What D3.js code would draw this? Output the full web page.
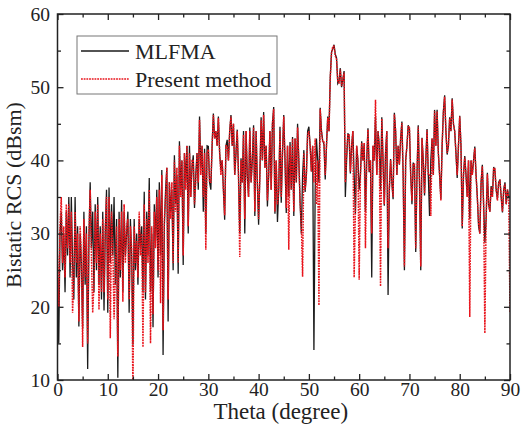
<!DOCTYPE html>
<html>
<head>
<meta charset="utf-8">
<script src="https://cdn.jsdelivr.net/npm/d3@7"></script>
<style>
  body { margin: 0; background: #fff; }
  .canvas svg { display: block; }
  text { font-family: "Liberation Serif", "Times New Roman", serif; fill: #222; }
</style>
</head>
<body>
<div class="canvas"></div>
<script>
// data, one value every 0.25 degree
const thetaStep = 0.25;
const seriesNames = ['MLFMA', 'Present method'];
const xTicks = [0, 10, 20, 30, 40, 50, 60, 70, 80, 90];
const yTicks = [10, 20, 30, 40, 50, 60];

const mlfma = [
  24,15,30,33, 25,30,22,33, 27,35,24,35, 26,21,35,24, 31,17.3,30,26,
  17,33,23,31, 11.5,29,37,28, 33,22,34,25, 35,23,31,21, 33,19.5,30,36,
  19.2,36.3,26,34, 27,35,23,32, 10.3,33,24,34.6, 22,33,27,30, 33,19.2,32,27,
  14.8,32,25,30, 23,32,28,31, 22,35.7,21,33, 27,37.6,22,30, 17.2,34,29,36,
  24,37,27,38.7, 13.4,31,36,39, 18,37,33,36, 25,40.7,34,38, 24.5,42.6,36,40,
  25.7,41,37,42, 30,42,35,39, 40.7,33.5,38,41, 36,46,39,42, 33,41.6,30,42,
  41.9,37,36,42, 46.4,43,44,42, 46,41,38.7,40, 36,31.9,42,42.8, 40,44,46.2,42,
  45,38,41,44.2, 38,30,40.3,37, 44,30,44,38, 35,44.5,37,40, 44.8,32.4,44,37,
  31.2,38,45.9,40, 46.6,39,42,33.7, 38,44,36,45, 47.3,32.7,40,31.6, 36,44.6,34.2,41,
  46.2,40,32.8,42, 35,42.5,36,43.2, 32.4,43,37,45, 40,34.2,30,38, 41.4,35.7,38,44,
  44.6,42,38.5,42, 14.1,36,43,40, 37,47.2,44,42.7, 42.2,37.4,42,46, 44,51.4,54.8,55.2,
  55.8,54.5,54,50.5, 50.8,52.6,50,51, 52.2,35,40,43.7, 43.2,38.2,42,44, 38,32.7,42,40,
  36,38,42.6,40, 42.2,33,40,44.4, 38.4,40,24,42, 40,46,38,44, 42,36,45.9,40,
  33.8,41,44,21.6, 36,40.2,37,34.7, 46.5,44,38,42, 39.4,43,45.3,38, 25,40,42,44.8,
  44.3,38,34,39.7, 39.2,27.5,38,44.8, 37,25,43.1,40, 35.2,40,44.3,38, 32.4,40,43,38,
  46.9,42,46.9,41, 38,34.7,42,46.7, 48.9,44,40.8,42, 45.9,44,48.5,45, 44,41,37.6,42,
  46.1,42,30.7,38, 40.6,38,35,40, 32,40,38,40, 41.9,38,35,31, 30,37,39.4,34,
  28.8,32,38.3,34, 33,36.5,35,39.1, 38.6,36,34.7,37, 37.4,35,32.9,36, 37,34,36,35,
  35
];

const present = [
  27,20,31,35, 26,31,24,34, 28,34,26,33, 19.2,24,33,26, 30,18,31,27,
  14.5,32,24,30, 15,30,36,27, 19.2,23,33,26, 34,19.6,30,22, 32,22,31,35,
  21,35,15.7,33, 28,18.3,24,31, 13.2,32,25,33, 20.7,34,26,31, 32,21,31,28,
  8,31,26,29, 24,33,27,30, 14.5,34,22,32, 26,36,15,31, 19,33,28,35,
  25,36,20.5,38, 16.8,32,35,39, 21,37,32,37, 26,40,33,39, 26,42,35,40,
  27,41,36,42, 31,41,35,40, 40,34,37,41, 37,45.5,38,42, 35,41,27.8,41,
  41.5,37,37,42, 46.2,43,44,42, 45.8,41,38,40, 36,32.5,42,42, 40,44,46,42,
  45,38,41,44, 38,26.8,40,37, 43.5,32,44,38, 35,44,37,40, 44.5,33,44,37,
  32,38,45.5,40, 46.2,39,42,34.5, 38,44,36,45, 47,33,40,34, 36,44,35,41,
  46,40,33.5,42, 27.8,42,36,43, 33,43,37,44.5, 40,34.5,31,24.1, 41,36,38,43.5,
  44,42,38.5,42, 37,43,34,40, 20.2,47,44,42.5, 42.5,38,42,45.8, 44,51.2,54.6,55.6,
  55.6,54.3,53.8,50.7, 50.6,52.4,50.2,51, 52,37,41,43.5, 43.5,38.5,42,44, 24,33,42,40,
  23.7,38,42.4,40, 42.4,28,40,44.2, 38.5,40,30,42, 40,48.3,38,44, 42,22.8,45.7,40,
  34,41,44,28, 36,40,37,35, 46.3,44,38,42, 39.5,43,45.1,38, 25.5,40,42,44.6,
  44.6,38,34.5,39.5, 39.5,28,38,44.6, 37,25.5,43,40, 35.5,40,44.1,38, 38,32.4,43,38,
  46.7,42,46.7,41, 38,34.5,42,46.5, 48.7,44,41,42, 45.7,44,48.3,45, 44,41,38,42,
  46,42,31,38, 40.4,38,35,40, 18.6,40,38,40, 41.7,38,35,31.5, 30,37,39.2,34,
  16.4,32,38.1,34, 33,36.3,35,38.9, 38.9,36,34.5,37, 37.2,35,33,36, 36.8,34,36,35,
  19.2
];

// svg + margins
const width = 522;
const height = 427;
const margin = { top: 14, right: 12, bottom: 47, left: 57.5 };
const graphWidth = width - margin.left - margin.right;
const graphHeight = height - margin.top - margin.bottom;

const svg = d3.select('.canvas')
  .append('svg')
  .attr('width', width)
  .attr('height', height);

const graph = svg.append('g')
  .attr('transform', `translate(${margin.left}, ${margin.top})`);

// scales
const x = d3.scaleLinear().domain([0, 90]).range([0, graphWidth]);
const y = d3.scaleLinear().domain([10, 60]).range([graphHeight, 0]);

svg.append('defs').append('clipPath')
  .attr('id', 'plot-clip')
  .append('rect')
  .attr('width', graphWidth)
  .attr('height', graphHeight);

// lines
const line = d3.line()
  .x((d, i) => x(i * thetaStep))
  .y(d => y(d));

const lines = graph.append('g').attr('clip-path', 'url(#plot-clip)');

lines.append('path')
  .datum(mlfma)
  .attr('fill', 'none')
  .attr('stroke', '#1a1a1a')
  .attr('stroke-width', 1.3)
  .attr('d', line);

lines.append('path')
  .datum(present)
  .attr('fill', 'none')
  .attr('stroke', '#e8141c')
  .attr('stroke-width', 1.5)
  .attr('stroke-dasharray', '1.8,0.9')
  .attr('d', line);

// axes, ticks pointing inward
const minorX = [5, 15, 25, 35, 45, 55, 65, 75, 85];
const minorY = [15, 25, 35, 45, 55];

const axisStyle = (g) => {
  g.select('.domain').remove();
  g.selectAll('line').attr('stroke', '#222').attr('stroke-width', 1.3);
  g.selectAll('text').attr('font-size', 19.5);
};

graph.append('g')
  .attr('transform', `translate(0, ${graphHeight})`)
  .call(d3.axisBottom(x).tickValues(xTicks).tickSize(-6).tickPadding(2))
  .call(axisStyle);
graph.append('g')
  .attr('transform', `translate(0, ${graphHeight})`)
  .call(d3.axisBottom(x).tickValues(minorX).tickSize(-3.5).tickFormat(''))
  .call(axisStyle);

graph.append('g')
  .call(d3.axisTop(x).tickValues(xTicks).tickSize(-6).tickFormat(''))
  .call(axisStyle);
graph.append('g')
  .call(d3.axisTop(x).tickValues(minorX).tickSize(-3.5).tickFormat(''))
  .call(axisStyle);

graph.append('g')
  .call(d3.axisLeft(y).tickValues(yTicks).tickSize(-6).tickPadding(7.5))
  .call(axisStyle);
graph.append('g')
  .call(d3.axisLeft(y).tickValues(minorY).tickSize(-3.5).tickFormat(''))
  .call(axisStyle);

graph.append('g')
  .attr('transform', `translate(${graphWidth}, 0)`)
  .call(d3.axisRight(y).tickValues(yTicks).tickSize(-6).tickFormat(''))
  .call(axisStyle);
graph.append('g')
  .attr('transform', `translate(${graphWidth}, 0)`)
  .call(d3.axisRight(y).tickValues(minorY).tickSize(-3.5).tickFormat(''))
  .call(axisStyle);

// frame
graph.append('rect')
  .attr('width', graphWidth)
  .attr('height', graphHeight)
  .attr('fill', 'none')
  .attr('stroke', '#222')
  .attr('stroke-width', 1.5);

// axis titles
svg.append('text')
  .attr('x', margin.left + x(45) - 3)
  .attr('y', 419)
  .attr('text-anchor', 'middle')
  .attr('font-size', 23)
  .text('Theta (degree)');

svg.append('text')
  .attr('transform', `translate(21, ${margin.top + y(35) - 2}) rotate(-90)`)
  .attr('text-anchor', 'middle')
  .attr('font-size', 22)
  .text('Bistatic RCS (dBsm)');

// legend
const legend = svg.append('g').attr('transform', 'translate(77, 36)');

legend.append('rect')
  .attr('width', 200)
  .attr('height', 58)
  .attr('fill', '#fff')
  .attr('stroke', '#777')
  .attr('stroke-width', 1);

const legendStyles = [
  { stroke: '#1a1a1a', dash: null },
  { stroke: '#e8141c', dash: '1.8,0.9' }
];

seriesNames.forEach((name, i) => {
  const row = legend.append('g').attr('transform', `translate(0, ${15 + i * 28})`);
  row.append('line')
    .attr('x1', 4).attr('x2', 52)
    .attr('stroke', legendStyles[i].stroke)
    .attr('stroke-width', 1.3)
    .attr('stroke-dasharray', legendStyles[i].dash);
  row.append('text')
    .attr('x', 58)
    .attr('y', 8)
    .attr('font-size', 22)
    .text(name);
});
</script>
</body>
</html>
